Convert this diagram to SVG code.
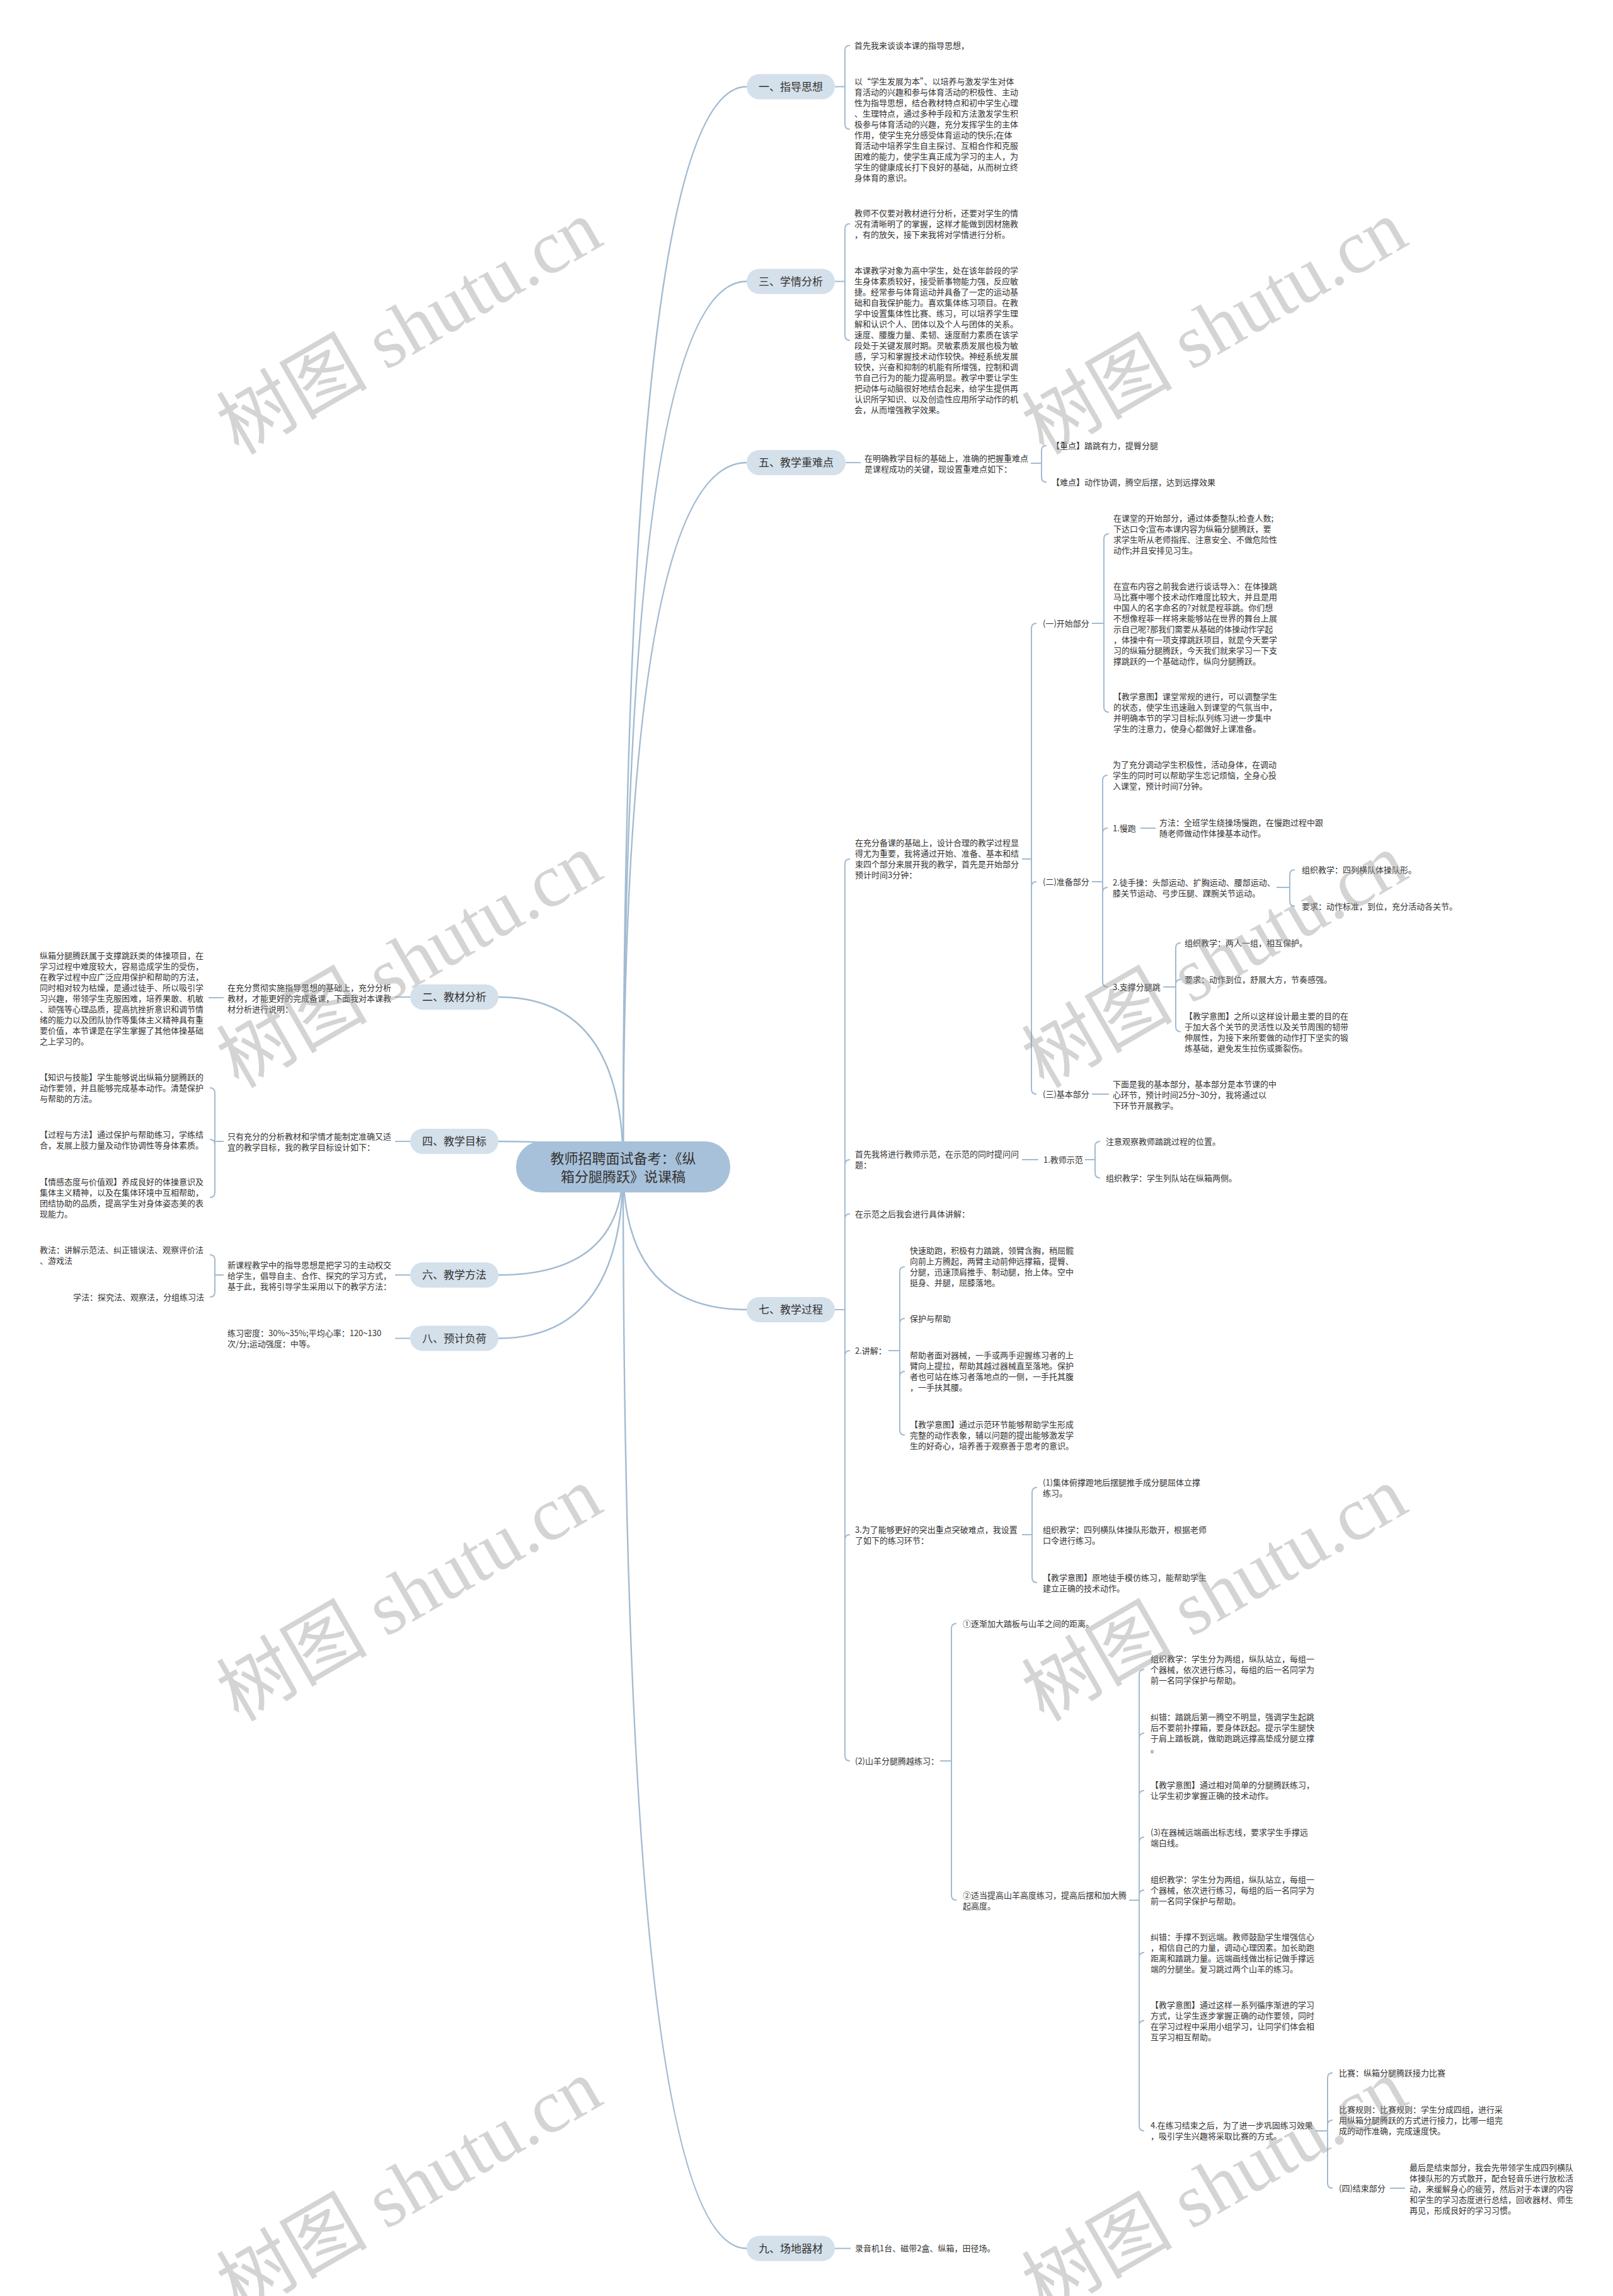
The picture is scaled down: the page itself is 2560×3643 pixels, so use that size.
<svg xmlns="http://www.w3.org/2000/svg" width="2560" height="3643" viewBox="0 0 2560 3643">
<style>
.t{font-family:"Noto Sans CJK SC","Noto Sans",sans-serif;font-size:13px;fill:#333}
.pt{font-family:"Noto Sans CJK SC","Noto Sans",sans-serif;font-size:17px;fill:#333;text-anchor:middle}
.rt{font-family:"Noto Sans CJK SC","Noto Sans",sans-serif;font-size:22px;fill:#333;text-anchor:middle}
.pill{fill:#d4e0ea}
.root{fill:#a8c1da}
.c{fill:none;stroke:#a3bbd1;stroke-width:2}
.m{fill:none;stroke:#a3bbd1;stroke-width:2.4}
.wm{font-family:"Liberation Serif","Noto Sans CJK SC",serif;font-size:120px;fill:#999;fill-opacity:0.42;text-anchor:middle}
</style>
<rect width="2560" height="3643" fill="#fff"/>

<g id="connectors">
<path class="m" d="M989 1851 Q989 137.5 1185 137.5"/>
<path class="m" d="M989 1851 Q989 446.5 1185 446.5"/>
<path class="m" d="M989 1851 Q989 734 1185 734"/>
<path class="m" d="M989 1851 Q989 2078 1185 2078"/>
<path class="m" d="M989 1851 Q989 3567.5 1185 3567.5"/>
<path class="m" d="M989 1851 Q989 1582 791 1582"/>
<path class="m" d="M989 1851 Q989 1811 791 1811"/>
<path class="m" d="M989 1851 Q989 2023 791 2023"/>
<path class="m" d="M989 1851 Q989 2123.5 791 2123.5"/>
<path class="c" d="M1325 137.5H1341M1349 72Q1341 72 1341 80V197Q1341 205 1349 205"/>
<path class="c" d="M1325 446.5H1341M1349 355Q1341 355 1341 363V532Q1341 540 1349 540"/>
<path class="c" d="M1342 734H1366"/>
<path class="c" d="M1636 735H1653M1661 707Q1653 707 1653 715V757Q1653 765 1661 765"/>
<path class="c" d="M1325 2078H1341M1349 1363Q1341 1363 1341 1371V2786Q1341 2794 1349 2794M1341 1848Q1341 1840 1349 1840M1341 1934Q1341 1926 1349 1926M1341 2151Q1341 2143 1349 2143M1341 2443Q1341 2435 1349 2435"/>
<path class="c" d="M1622 1363H1637M1645 989Q1637 989 1637 997V1728Q1637 1736 1645 1736M1637 1407Q1637 1399 1645 1399"/>
<path class="c" d="M1733 989H1752M1760 847Q1752 847 1752 855V1122Q1752 1130 1760 1130"/>
<path class="c" d="M1733 1399H1750M1758 1230Q1750 1230 1750 1238V1558Q1750 1566 1758 1566M1750 1322Q1750 1314 1758 1314M1750 1416Q1750 1408 1758 1408"/>
<path class="c" d="M1810 1314H1834"/>
<path class="c" d="M2026 1408H2047M2055 1380Q2047 1380 2047 1388V1430Q2047 1438 2055 1438"/>
<path class="c" d="M1846 1566H1866M1874 1496Q1866 1496 1866 1504V1629Q1866 1637 1874 1637M1866 1562Q1866 1554 1874 1554"/>
<path class="c" d="M1733 1736H1760"/>
<path class="c" d="M1622 1840H1648"/>
<path class="c" d="M1722 1840H1738M1746 1811Q1738 1811 1738 1819V1861Q1738 1869 1746 1869"/>
<path class="c" d="M1410 2143H1428M1436 2010Q1428 2010 1428 2018V2269Q1428 2277 1436 2277M1428 2100Q1428 2092 1436 2092M1428 2184Q1428 2176 1436 2176"/>
<path class="c" d="M1622 2435H1638M1646 2360Q1638 2360 1638 2368V2503Q1638 2511 1646 2511"/>
<path class="c" d="M1492 2794H1510M1518 2576Q1510 2576 1510 2584V3007Q1510 3015 1518 3015"/>
<path class="c" d="M1792 3015H1808M1816 2649Q1808 2649 1808 2657V3373Q1808 3381 1816 3381M1808 2758Q1808 2750 1816 2750M1808 2849Q1808 2841 1816 2841M1808 2923Q1808 2915 1816 2915M1808 3007Q1808 2999 1816 2999M1808 3106Q1808 3098 1816 3098M1808 3214Q1808 3206 1816 3206"/>
<path class="c" d="M2088 3381H2107M2115 3289Q2107 3289 2107 3297V3464Q2107 3472 2115 3472M2107 3372Q2107 3364 2115 3364"/>
<path class="c" d="M2206 3472H2230"/>
<path class="c" d="M1325 3567.5H1350"/>
<path class="c" d="M651 1582H627M355 1583H331"/>
<path class="c" d="M651 1811H627M355 1811H341M333 1726Q341 1726 341 1734V1892Q341 1900 333 1900M341 1816Q341 1808 333 1808"/>
<path class="c" d="M651 2023H627M355 2023H341M333 1991Q341 1991 341 1999V2050Q341 2058 333 2058"/>
<path class="c" d="M651 2123.5H627"/>
</g>

<g id="root">
<rect class="root" x="819" y="1811" width="340" height="81" rx="40"/>
<text class="rt" x="989" y="1846">教师招聘面试备考：《纵</text>
<text class="rt" x="989" y="1875">箱分腿腾跃》说课稿</text>
</g>

<g id="n1"><rect class="pill" x="1185" y="117.5" width="140" height="40" rx="20"/><text class="pt" x="1255" y="143.5">一、指导思想</text></g>
<g id="n1a"><text class="t" x="1356" y="77">首先我来谈谈本课的指导思想，</text></g>
<g id="n1b"><text class="t">
<tspan x="1356" y="134">以“学生发展为本”、以培养与激发学生对体</tspan>
<tspan x="1356" y="151">育活动的兴趣和参与体育活动的积极性、主动</tspan>
<tspan x="1356" y="168">性为指导思想，结合教材特点和初中学生心理</tspan>
<tspan x="1356" y="185">、生理特点，通过多种手段和方法激发学生积</tspan>
<tspan x="1356" y="202">极参与体育活动的兴趣，充分发挥学生的主体</tspan>
<tspan x="1356" y="219">作用，使学生充分感受体育运动的快乐;在体</tspan>
<tspan x="1356" y="236">育活动中培养学生自主探讨、互相合作和克服</tspan>
<tspan x="1356" y="253">困难的能力，使学生真正成为学习的主人，为</tspan>
<tspan x="1356" y="270">学生的健康成长打下良好的基础，从而树立终</tspan>
<tspan x="1356" y="287">身体育的意识。</tspan></text></g>

<g id="n3"><rect class="pill" x="1185" y="426.5" width="140" height="40" rx="20"/><text class="pt" x="1255" y="452.5">三、学情分析</text></g>
<g id="n3a"><text class="t">
<tspan x="1356" y="343">教师不仅要对教材进行分析，还要对学生的情</tspan>
<tspan x="1356" y="360">况有清晰明了的掌握，这样才能做到因材施教</tspan>
<tspan x="1356" y="377">，有的放矢，接下来我将对学情进行分析。</tspan></text></g>
<g id="n3b"><text class="t">
<tspan x="1356" y="434">本课教学对象为高中学生，处在该年龄段的学</tspan>
<tspan x="1356" y="451">生身体素质较好，接受新事物能力强，反应敏</tspan>
<tspan x="1356" y="468">捷。经常参与体育运动并具备了一定的运动基</tspan>
<tspan x="1356" y="485">础和自我保护能力。喜欢集体练习项目。在教</tspan>
<tspan x="1356" y="502">学中设置集体性比赛、练习，可以培养学生理</tspan>
<tspan x="1356" y="519">解和认识个人、团体以及个人与团体的关系。</tspan>
<tspan x="1356" y="536">速度、腰腹力量、柔韧、速度耐力素质在该学</tspan>
<tspan x="1356" y="553">段处于关键发展时期。灵敏素质发展也极为敏</tspan>
<tspan x="1356" y="570">感，学习和掌握技术动作较快。神经系统发展</tspan>
<tspan x="1356" y="587">较快，兴奋和抑制的机能有所增强，控制和调</tspan>
<tspan x="1356" y="604">节自己行为的能力提高明显。教学中要让学生</tspan>
<tspan x="1356" y="621">把动体与动脑很好地结合起来，给学生提供再</tspan>
<tspan x="1356" y="638">认识所学知识、以及创造性应用所学动作的机</tspan>
<tspan x="1356" y="655">会，从而增强教学效果。</tspan></text></g>

<g id="n5"><rect class="pill" x="1185" y="714" width="157" height="40" rx="20"/><text class="pt" x="1263.5" y="740">五、教学重难点</text></g>
<g id="n5a"><text class="t">
<tspan x="1372" y="732">在明确教学目标的基础上，准确的把握重难点</tspan>
<tspan x="1372" y="749">是课程成功的关键，现设置重难点如下：</tspan></text></g>
<g id="n5a1"><text class="t" x="1669" y="712">【重点】踏跳有力，提臀分腿</text></g>
<g id="n5a2"><text class="t" x="1669" y="770">【难点】动作协调，腾空后摆，达到远撑效果</text></g>

<g id="n7"><rect class="pill" x="1185" y="2058" width="140" height="40" rx="20"/><text class="pt" x="1255" y="2084">七、教学过程</text></g>
<g id="s1"><text class="t">
<tspan x="1357" y="1342">在充分备课的基础上，设计合理的教学过程显</tspan>
<tspan x="1357" y="1359">得尤为重要，我将通过开始、准备、基本和结</tspan>
<tspan x="1357" y="1376">束四个部分来展开我的教学，首先是开始部分</tspan>
<tspan x="1357" y="1393">预计时间3分钟：</tspan></text></g>
<g id="k1"><text class="t" x="1655" y="994">(一)开始部分</text></g>
<g id="k1a"><text class="t">
<tspan x="1767" y="827">在课堂的开始部分，通过体委整队;检查人数;</tspan>
<tspan x="1767" y="844">下达口令;宣布本课内容为纵箱分腿腾跃，要</tspan>
<tspan x="1767" y="861">求学生听从老师指挥、注意安全、不做危险性</tspan>
<tspan x="1767" y="878">动作;并且安排见习生。</tspan></text></g>
<g id="k1b"><text class="t">
<tspan x="1767" y="935">在宣布内容之前我会进行谈话导入：在体操跳</tspan>
<tspan x="1767" y="952">马比赛中哪个技术动作难度比较大，并且是用</tspan>
<tspan x="1767" y="969">中国人的名字命名的?对就是程菲跳。你们想</tspan>
<tspan x="1767" y="986">不想像程菲一样将来能够站在世界的舞台上展</tspan>
<tspan x="1767" y="1003">示自己呢?那我们需要从基础的体操动作学起</tspan>
<tspan x="1767" y="1020">，体操中有一项支撑跳跃项目，就是今天要学</tspan>
<tspan x="1767" y="1037">习的纵箱分腿腾跃，今天我们就来学习一下支</tspan>
<tspan x="1767" y="1054">撑跳跃的一个基础动作，纵向分腿腾跃。</tspan></text></g>
<g id="k1c"><text class="t">
<tspan x="1767" y="1110">【教学意图】课堂常规的进行，可以调整学生</tspan>
<tspan x="1767" y="1127">的状态，使学生迅速融入到课堂的气氛当中，</tspan>
<tspan x="1767" y="1144">并明确本节的学习目标;队列练习进一步集中</tspan>
<tspan x="1767" y="1161">学生的注意力，使身心都做好上课准备。</tspan></text></g>
<g id="k2"><text class="t" x="1655" y="1404">(二)准备部分</text></g>
<g id="k2a"><text class="t">
<tspan x="1766" y="1218">为了充分调动学生积极性，活动身体，在调动</tspan>
<tspan x="1766" y="1235">学生的同时可以帮助学生忘记烦恼，全身心投</tspan>
<tspan x="1766" y="1252">入课堂，预计时间7分钟。</tspan></text></g>
<g id="k2b"><text class="t" x="1766" y="1319">1.慢跑</text></g>
<g id="k2b1"><text class="t">
<tspan x="1840" y="1310">方法：全班学生绕操场慢跑，在慢跑过程中跟</tspan>
<tspan x="1840" y="1327">随老师做动作体操基本动作。</tspan></text></g>
<g id="k2c"><text class="t">
<tspan x="1766" y="1405">2.徒手操：头部运动、扩胸运动、腰部运动、</tspan>
<tspan x="1766" y="1422">膝关节运动、弓步压腿、踝腕关节运动。</tspan></text></g>
<g id="k2c1"><text class="t" x="2066" y="1385">组织教学：四列横队体操队形。</text></g>
<g id="k2c2"><text class="t" x="2066" y="1443">要求：动作标准，到位，充分活动各关节。</text></g>
<g id="k2d"><text class="t" x="1766" y="1571">3.支撑分腿跳</text></g>
<g id="k2d1"><text class="t" x="1880" y="1501">组织教学：两人一组，相互保护。</text></g>
<g id="k2d2"><text class="t" x="1880" y="1559">要求：动作到位，舒展大方，节奏感强。</text></g>
<g id="k2d3"><text class="t">
<tspan x="1880" y="1617">【教学意图】之所以这样设计最主要的目的在</tspan>
<tspan x="1880" y="1634">于加大各个关节的灵活性以及关节周围的韧带</tspan>
<tspan x="1880" y="1651">伸展性，为接下来所要做的动作打下坚实的锻</tspan>
<tspan x="1880" y="1668">炼基础，避免发生拉伤或撕裂伤。</tspan></text></g>
<g id="k3"><text class="t" x="1655" y="1741">(三)基本部分</text></g>
<g id="k3a"><text class="t">
<tspan x="1766" y="1725">下面是我的基本部分，基本部分是本节课的中</tspan>
<tspan x="1766" y="1742">心环节，预计时间25分~30分，我将通过以</tspan>
<tspan x="1766" y="1759">下环节开展教学。</tspan></text></g>
<g id="s2"><text class="t">
<tspan x="1357" y="1836">首先我将进行教师示范，在示范的同时提问问</tspan>
<tspan x="1357" y="1853">题：</tspan></text></g>
<g id="s2a"><text class="t" x="1656" y="1845">1.教师示范</text></g>
<g id="s2a1"><text class="t" x="1755" y="1816">注意观察教师踏跳过程的位置。</text></g>
<g id="s2a2"><text class="t" x="1755" y="1874">组织教学：学生列队站在纵箱两侧。</text></g>
<g id="s3"><text class="t" x="1357" y="1931">在示范之后我会进行具体讲解：</text></g>
<g id="s4"><text class="t" x="1357" y="2148">2.讲解：</text></g>
<g id="s4a"><text class="t">
<tspan x="1444" y="1989">快速助跑，积极有力踏跳，领臂含胸，稍屈髋</tspan>
<tspan x="1444" y="2006">向前上方腾起，两臂主动前伸远撑箱，提臀、</tspan>
<tspan x="1444" y="2023">分腿，迅速顶肩推手、制动腿，抬上体。空中</tspan>
<tspan x="1444" y="2040">挺身、并腿，屈膝落地。</tspan></text></g>
<g id="s4b"><text class="t" x="1444" y="2097">保护与帮助</text></g>
<g id="s4c"><text class="t">
<tspan x="1444" y="2155">帮助者面对器械，一手或两手迎握练习者的上</tspan>
<tspan x="1444" y="2172">臂向上提拉，帮助其越过器械直至落地。保护</tspan>
<tspan x="1444" y="2189">者也可站在练习者落地点的一侧，一手托其腹</tspan>
<tspan x="1444" y="2206">，一手扶其腰。</tspan></text></g>
<g id="s4d"><text class="t">
<tspan x="1444" y="2265">【教学意图】通过示范环节能够帮助学生形成</tspan>
<tspan x="1444" y="2282">完整的动作表象，辅以问题的提出能够激发学</tspan>
<tspan x="1444" y="2299">生的好奇心，培养善于观察善于思考的意识。</tspan></text></g>
<g id="s5"><text class="t">
<tspan x="1357" y="2432">3.为了能够更好的突出重点突破难点，我设置</tspan>
<tspan x="1357" y="2449">了如下的练习环节：</tspan></text></g>
<g id="s5a"><text class="t">
<tspan x="1655" y="2357">(1)集体俯撑蹬地后摆腿推手成分腿屈体立撑</tspan>
<tspan x="1655" y="2374">练习。</tspan></text></g>
<g id="s5b"><text class="t">
<tspan x="1655" y="2432">组织教学：四列横队体操队形散开，根据老师</tspan>
<tspan x="1655" y="2449">口令进行练习。</tspan></text></g>
<g id="s5c"><text class="t">
<tspan x="1655" y="2508">【教学意图】原地徒手模仿练习，能帮助学生</tspan>
<tspan x="1655" y="2525">建立正确的技术动作。</tspan></text></g>
<g id="s6"><text class="t" x="1357" y="2799">(2)山羊分腿腾越练习：</text></g>
<g id="s6a"><text class="t" x="1528" y="2581">①逐渐加大踏板与山羊之间的距离。</text></g>
<g id="s6b"><text class="t">
<tspan x="1528" y="3012">②适当提高山羊高度练习，提高后摆和加大腾</tspan>
<tspan x="1528" y="3029">起高度。</tspan></text></g>
<g id="s6b1"><text class="t">
<tspan x="1826" y="2637">组织教学：学生分为两组，纵队站立，每组一</tspan>
<tspan x="1826" y="2654">个器械，依次进行练习，每组的后一名同学为</tspan>
<tspan x="1826" y="2671">前一名同学保护与帮助。</tspan></text></g>
<g id="s6b2"><text class="t">
<tspan x="1826" y="2729">纠错：踏跳后第一腾空不明显，强调学生起跳</tspan>
<tspan x="1826" y="2746">后不要前扑撑箱，要身体跃起。提示学生腿快</tspan>
<tspan x="1826" y="2763">于肩上踏板跳，做助跑跳远撑高垫成分腿立撑</tspan>
<tspan x="1826" y="2780">。</tspan></text></g>
<g id="s6b3"><text class="t">
<tspan x="1826" y="2837">【教学意图】通过相对简单的分腿腾跃练习，</tspan>
<tspan x="1826" y="2854">让学生初步掌握正确的技术动作。</tspan></text></g>
<g id="s6b4"><text class="t">
<tspan x="1826" y="2912">(3)在器械远端画出标志线，要求学生手撑远</tspan>
<tspan x="1826" y="2929">端白线。</tspan></text></g>
<g id="s6b5"><text class="t">
<tspan x="1826" y="2987">组织教学：学生分为两组，纵队站立，每组一</tspan>
<tspan x="1826" y="3004">个器械，依次进行练习，每组的后一名同学为</tspan>
<tspan x="1826" y="3021">前一名同学保护与帮助。</tspan></text></g>
<g id="s6b6"><text class="t">
<tspan x="1826" y="3078">纠错：手撑不到远端。教师鼓励学生增强信心</tspan>
<tspan x="1826" y="3095">，相信自己的力量，调动心理因素。加长助跑</tspan>
<tspan x="1826" y="3112">距离和踏跳力量。远端画线做出标记做手撑远</tspan>
<tspan x="1826" y="3129">端的分腿坐。复习跳过两个山羊的练习。</tspan></text></g>
<g id="s6b7"><text class="t">
<tspan x="1826" y="3186">【教学意图】通过这样一系列循序渐进的学习</tspan>
<tspan x="1826" y="3203">方式，让学生逐步掌握正确的动作要领，同时</tspan>
<tspan x="1826" y="3220">在学习过程中采用小组学习，让同学们体会相</tspan>
<tspan x="1826" y="3237">互学习相互帮助。</tspan></text></g>
<g id="s6b8"><text class="t">
<tspan x="1826" y="3377">4.在练习结束之后，为了进一步巩固练习效果</tspan>
<tspan x="1826" y="3394">，吸引学生兴趣将采取比赛的方式。</tspan></text></g>
<g id="s6b8a"><text class="t" x="2125" y="3294">比赛：纵箱分腿腾跃接力比赛</text></g>
<g id="s6b8b"><text class="t">
<tspan x="2125" y="3352">比赛规则：比赛规则：学生分成四组，进行采</tspan>
<tspan x="2125" y="3369">用纵箱分腿腾跃的方式进行接力，比哪一组完</tspan>
<tspan x="2125" y="3386">成的动作准确，完成速度快。</tspan></text></g>
<g id="s6b8c"><text class="t" x="2125" y="3477">(四)结束部分</text></g>
<g id="s6b8c1"><text class="t">
<tspan x="2237" y="3444">最后是结束部分，我会先带领学生成四列横队</tspan>
<tspan x="2237" y="3461">体操队形的方式散开，配合轻音乐进行放松活</tspan>
<tspan x="2237" y="3478">动，来缓解身心的疲劳，然后对于本课的内容</tspan>
<tspan x="2237" y="3495">和学生的学习态度进行总结，回收器材、师生</tspan>
<tspan x="2237" y="3512">再见，形成良好的学习习惯。</tspan></text></g>

<g id="n9"><rect class="pill" x="1185" y="3547.5" width="140" height="40" rx="20"/><text class="pt" x="1255" y="3573.5">九、场地器材</text></g>
<g id="n9a"><text class="t" x="1357" y="3572">录音机1台、磁带2盒、纵箱，田径场。</text></g>

<g id="n2"><rect class="pill" x="651" y="1562" width="140" height="40" rx="20"/><text class="pt" x="721" y="1588">二、教材分析</text></g>
<g id="n2a"><text class="t">
<tspan x="361" y="1572">在充分贯彻实施指导思想的基础上，充分分析</tspan>
<tspan x="361" y="1589">教材，才能更好的完成备课，下面我对本课教</tspan>
<tspan x="361" y="1606">材分析进行说明：</tspan></text></g>
<g id="n2a1"><text class="t">
<tspan x="63" y="1521">纵箱分腿腾跃属于支撑跳跃类的体操项目，在</tspan>
<tspan x="63" y="1538">学习过程中难度较大，容易造成学生的受伤，</tspan>
<tspan x="63" y="1555">在教学过程中应广泛应用保护和帮助的方法，</tspan>
<tspan x="63" y="1572">同时相对较为枯燥，是通过徒手、所以吸引学</tspan>
<tspan x="63" y="1589">习兴趣，带领学生克服困难，培养果敢、机敏</tspan>
<tspan x="63" y="1606">、顽强等心理品质，提高抗挫折意识和调节情</tspan>
<tspan x="63" y="1623">绪的能力以及团队协作等集体主义精神具有重</tspan>
<tspan x="63" y="1640">要价值，本节课是在学生掌握了其他体操基础</tspan>
<tspan x="63" y="1657">之上学习的。</tspan></text></g>

<g id="n4"><rect class="pill" x="651" y="1791" width="140" height="40" rx="20"/><text class="pt" x="721" y="1817">四、教学目标</text></g>
<g id="n4a"><text class="t">
<tspan x="361" y="1808">只有充分的分析教材和学情才能制定准确又适</tspan>
<tspan x="361" y="1825">宜的教学目标，我的教学目标设计如下：</tspan></text></g>
<g id="n4a1"><text class="t">
<tspan x="63" y="1714">【知识与技能】学生能够说出纵箱分腿腾跃的</tspan>
<tspan x="63" y="1731">动作要领，并且能够完成基本动作。清楚保护</tspan>
<tspan x="63" y="1748">与帮助的方法。</tspan></text></g>
<g id="n4a2"><text class="t">
<tspan x="63" y="1805">【过程与方法】通过保护与帮助练习，学练结</tspan>
<tspan x="63" y="1822">合，发展上肢力量及动作协调性等身体素质。</tspan></text></g>
<g id="n4a3"><text class="t">
<tspan x="63" y="1880">【情感态度与价值观】养成良好的体操意识及</tspan>
<tspan x="63" y="1897">集体主义精神，以及在集体环境中互相帮助，</tspan>
<tspan x="63" y="1914">团结协助的品质，提高学生对身体姿态美的表</tspan>
<tspan x="63" y="1931">现能力。</tspan></text></g>

<g id="n6"><rect class="pill" x="651" y="2003" width="140" height="40" rx="20"/><text class="pt" x="721" y="2029">六、教学方法</text></g>
<g id="n6a"><text class="t">
<tspan x="361" y="2012">新课程教学中的指导思想是把学习的主动权交</tspan>
<tspan x="361" y="2029">给学生，倡导自主、合作、探究的学习方式，</tspan>
<tspan x="361" y="2046">基于此，我将引导学生采用以下的教学方法：</tspan></text></g>
<g id="n6a1"><text class="t">
<tspan x="63" y="1988">教法：讲解示范法、纠正错误法、观察评价法</tspan>
<tspan x="63" y="2005">、游戏法</tspan></text></g>
<g id="n6a2"><text class="t" x="324" y="2063" text-anchor="end">学法：探究法、观察法，分组练习法</text></g>

<g id="n8"><rect class="pill" x="651" y="2103.5" width="140" height="40" rx="20"/><text class="pt" x="721" y="2129.5">八、预计负荷</text></g>
<g id="n8a"><text class="t">
<tspan x="361" y="2120">练习密度：30%~35%;平均心率：120~130</tspan>
<tspan x="361" y="2137">次/分;运动强度：中等。</tspan></text></g>

<g id="watermarks">
<text class="wm" x="650" y="560" transform="rotate(-30 650 520)">树图 shutu.cn</text>
<text class="wm" x="1928" y="560" transform="rotate(-30 1928 520)">树图 shutu.cn</text>
<text class="wm" x="650" y="1565" transform="rotate(-30 650 1525)">树图 shutu.cn</text>
<text class="wm" x="1928" y="1565" transform="rotate(-30 1928 1525)">树图 shutu.cn</text>
<text class="wm" x="650" y="2570" transform="rotate(-30 650 2530)">树图 shutu.cn</text>
<text class="wm" x="1928" y="2570" transform="rotate(-30 1928 2530)">树图 shutu.cn</text>
<text class="wm" x="650" y="3510" transform="rotate(-30 650 3470)">树图 shutu.cn</text>
<text class="wm" x="1928" y="3510" transform="rotate(-30 1928 3470)">树图 shutu.cn</text>
</g>
</svg>
